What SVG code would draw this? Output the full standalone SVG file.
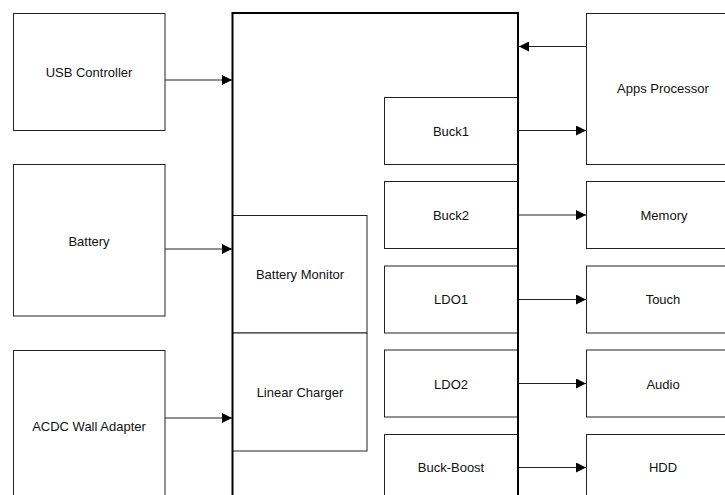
<svg xmlns="http://www.w3.org/2000/svg" width="725" height="495" viewBox="0 0 725 495">
<style>
.box{fill:#fff;stroke:#222;stroke-width:1}
.main{fill:none;stroke:#000;stroke-width:2}
.lbl{font-family:"Liberation Sans",Arial,sans-serif;font-size:13px;fill:#111;text-anchor:middle;dominant-baseline:central}
.conn{stroke:#222;stroke-width:1;fill:none;marker-end:url(#ah)}
</style>
<defs>
<marker id="ah" viewBox="0 0 10 10" refX="10" refY="5" markerWidth="10" markerHeight="10" markerUnits="userSpaceOnUse" orient="auto">
<path d="M0,0 L10,5 L0,10 z" fill="#000"/>
</marker>
</defs>
<g id="usb"><rect class="box" x="13.5" y="13.5" width="151.5" height="117"/><text class="lbl" x="89" y="72">USB Controller</text></g>
<g id="battery"><rect class="box" x="13.5" y="164.5" width="151.5" height="151.5"/><text class="lbl" x="89" y="241">Battery</text></g>
<g id="acdc"><rect class="box" x="13.5" y="350.5" width="151.5" height="160"/><text class="lbl" x="89" y="426">ACDC Wall Adapter</text></g>
<g id="batmon"><rect class="box" x="232.5" y="215.5" width="134.5" height="117.5"/><text class="lbl" x="300" y="274">Battery Monitor</text></g>
<g id="charger"><rect class="box" x="232.5" y="333" width="134.5" height="118"/><text class="lbl" x="300" y="392">Linear Charger</text></g>
<g id="buck1"><rect class="box" x="384.5" y="97.5" width="133.5" height="67"/><text class="lbl" x="451" y="131">Buck1</text></g>
<g id="buck2"><rect class="box" x="384.5" y="181.5" width="133.5" height="67"/><text class="lbl" x="451" y="215">Buck2</text></g>
<g id="ldo1"><rect class="box" x="384.5" y="266" width="133.5" height="67"/><text class="lbl" x="451" y="299">LDO1</text></g>
<g id="ldo2"><rect class="box" x="384.5" y="350" width="133.5" height="67"/><text class="lbl" x="451" y="384">LDO2</text></g>
<g id="buckboost"><rect class="box" x="384.5" y="434.5" width="133.5" height="70"/><text class="lbl" x="451" y="467">Buck-Boost</text></g>
<g id="main"><rect class="main" x="232.5" y="13" width="285.5" height="500"/></g>
<g id="apps"><rect class="box" x="586.5" y="13.5" width="160" height="151"/><text class="lbl" x="663" y="88">Apps Processor</text></g>
<g id="memory"><rect class="box" x="586.5" y="181.5" width="160" height="67"/><text class="lbl" x="664" y="215">Memory</text></g>
<g id="touch"><rect class="box" x="586.5" y="266" width="160" height="67"/><text class="lbl" x="663" y="299">Touch</text></g>
<g id="audio"><rect class="box" x="586.5" y="350" width="160" height="67"/><text class="lbl" x="663" y="384">Audio</text></g>
<g id="hdd"><rect class="box" x="586.5" y="434.5" width="160" height="70"/><text class="lbl" x="663" y="467">HDD</text></g>
<g id="connectors">
<line class="conn" x1="165" y1="80" x2="232" y2="80"/>
<line class="conn" x1="165" y1="249" x2="232" y2="249"/>
<line class="conn" x1="165" y1="418" x2="232" y2="418"/>
<line class="conn" x1="586" y1="46.5" x2="519" y2="46.5"/>
<line class="conn" x1="519" y1="130.5" x2="586" y2="130.5"/>
<line class="conn" x1="519" y1="215" x2="586" y2="215"/>
<line class="conn" x1="519" y1="299.5" x2="586" y2="299.5"/>
<line class="conn" x1="519" y1="383.5" x2="586" y2="383.5"/>
<line class="conn" x1="519" y1="467.5" x2="586" y2="467.5"/>
</g>
</svg>
